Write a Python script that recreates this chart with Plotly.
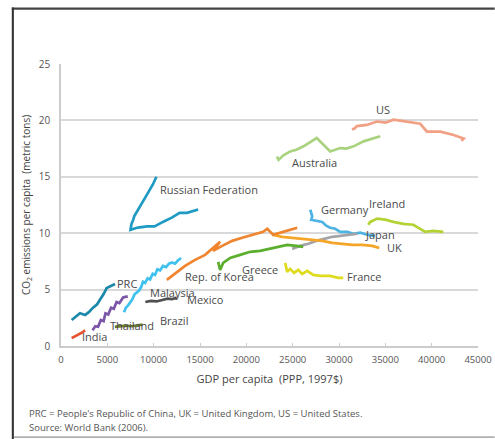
import plotly.graph_objects as go

# GDP per capita (PPP, 1997$) and CO2 emissions per capita (metric tons)
us_gdp = [31400, 31700, 31930, 33000, 34100, 35000, 35890, 37330, 38770, 39490, 40930, 42370, 43450, 43200]
us_co2 = [19.2, 19.3, 19.5, 19.6, 19.9, 19.8, 20.07, 19.9, 19.7, 19.0, 19.0, 18.7, 18.4, 18.2]

australia_gdp = [23300, 23480, 24000, 24730, 25400, 26170, 27600, 28330, 29050, 30130, 30800, 31570, 32650, 34450]
australia_co2 = [16.8, 16.5, 16.9, 17.25, 17.4, 17.7, 18.44, 17.85, 17.25, 17.55, 17.5, 17.7, 18.14, 18.6]

russia_gdp = [10300, 9900, 9400, 8900, 8400, 7900, 7800, 7600, 7500, 8300, 9300, 10100, 11000, 12000, 12800, 13600, 14800]
russia_co2 = [15.0, 14.3, 13.6, 12.9, 12.2, 11.5, 11.2, 10.8, 10.3, 10.5, 10.6, 10.6, 11.0, 11.4, 11.8, 11.8, 12.1]

germany_gdp = [26900, 27110, 27000, 27650, 28190, 28620, 29050, 29590, 30130, 30890, 31540, 32290, 33050, 33910]
germany_co2 = [12.08, 11.5, 11.19, 11.1, 11.0, 10.66, 10.48, 10.39, 10.12, 10.12, 9.95, 10.04, 9.86, 9.77]

ireland_gdp = [33160, 33370, 34130, 34990, 35860, 36940, 38020, 38770, 39310, 40180, 41260]
ireland_co2 = [10.75, 11.0, 11.3, 11.2, 11.0, 10.83, 10.75, 10.39, 10.12, 10.21, 10.12]

japan_gdp = [24950, 25810, 26680, 27540, 28400, 29270, 30130, 31000, 31970]
japan_co2 = [8.61, 8.88, 9.06, 9.32, 9.5, 9.68, 9.77, 9.86, 9.95]

uk_gdp = [22790, 23870, 24950, 26030, 27110, 28190, 29270, 30350, 31430, 32510, 33590, 34340]
uk_co2 = [9.86, 9.68, 9.59, 9.5, 9.41, 9.32, 9.15, 9.06, 8.97, 8.97, 8.88, 8.7]

korea_gdp = [11420, 12310, 13390, 14470, 15550, 17170, 16420, 17390, 18470, 19550, 20630, 21820, 22250, 22900, 23980, 25060, 25490]
korea_co2 = [5.86, 6.39, 7.10, 7.64, 8.08, 9.24, 8.44, 8.88, 9.32, 9.59, 9.86, 10.12, 10.39, 9.86, 10.12, 10.39, 10.48]

greece_gdp = [16960, 17170, 17500, 18250, 19330, 20410, 21490, 22900, 24410, 25380, 26140]
greece_co2 = [7.46, 6.75, 7.37, 7.81, 8.08, 8.35, 8.44, 8.7, 8.97, 8.88, 8.79]

france_gdp = [24190, 24410, 24730, 25160, 25600, 26030, 26570, 27220, 27970, 29050, 29920, 30460]
france_co2 = [7.37, 6.57, 6.84, 6.48, 6.75, 6.39, 6.66, 6.3, 6.22, 6.22, 6.04, 6.04]

malaysia_gdp = [6800, 7000, 7240, 7500, 7670, 7950, 8210, 8400, 8640, 8850, 9070, 9350, 9610, 9900,
                10150, 10400, 10690, 11000, 11340, 11650, 11990, 12300, 12640, 12960]
malaysia_co2 = [3.0, 3.4, 3.6, 3.9, 4.1, 4.6, 4.8, 4.9, 5.2, 5.7, 5.6, 6.0, 5.9, 6.4,
                6.3, 6.8, 6.7, 7.1, 7.0, 7.3, 7.4, 7.3, 7.6, 7.8]

mexico_gdp = [9100, 9700, 10300, 10900, 11500, 12000, 12500]
mexico_co2 = [3.9, 4.0, 3.95, 4.1, 4.2, 4.15, 4.3]

prc_gdp = [1150, 1600, 2050, 2600, 3000, 3460, 3900, 4200, 4600, 4930, 5400, 5830]
prc_co2 = [2.3, 2.6, 2.9, 2.75, 3.0, 3.4, 3.7, 4.1, 4.6, 5.15, 5.35, 5.5]

thailand_gdp = [3400, 3700, 4000, 4300, 4600, 4800, 5100, 5400, 5700, 6000, 6300, 6700, 7200]
thailand_co2 = [1.4, 1.75, 1.7, 2.3, 2.2, 2.9, 2.8, 3.4, 3.3, 3.9, 3.8, 4.3, 4.4]

brazil_gdp = [5800, 6400, 7000, 7600, 8200, 8800]
brazil_co2 = [1.7, 1.75, 1.8, 1.75, 1.85, 1.9]

india_gdp = [1150, 1500, 1900, 2300, 2600]
india_co2 = [0.7, 0.85, 1.05, 1.2, 1.4]

x_ticks = [0, 5000, 10000, 15000, 20000, 25000, 30000, 35000, 40000, 45000]
y_ticks = [0, 5, 10, 15, 20, 25]

series = [
    ('US', us_gdp, us_co2, '#f2a084'),
    ('Australia', australia_gdp, australia_co2, '#a9d37f'),
    ('Russian Federation', russia_gdp, russia_co2, '#1f9bc3'),
    ('Germany', germany_gdp, germany_co2, '#4db3e2'),
    ('Ireland', ireland_gdp, ireland_co2, '#b3d334'),
    ('Japan', japan_gdp, japan_co2, '#a3a3a8'),
    ('UK', uk_gdp, uk_co2, '#f5a629'),
    ('Rep. of Korea', korea_gdp, korea_co2, '#f08530'),
    ('Greece', greece_gdp, greece_co2, '#5cae2e'),
    ('France', france_gdp, france_co2, '#dfdb1e'),
    ('Malaysia', malaysia_gdp, malaysia_co2, '#3fc1ee'),
    ('Mexico', mexico_gdp, mexico_co2, '#505050'),
    ('PRC', prc_gdp, prc_co2, '#1c89ab'),
    ('Thailand', thailand_gdp, thailand_co2, '#7a55a8'),
    ('Brazil', brazil_gdp, brazil_co2, '#6b7d2c'),
    ('India', india_gdp, india_co2, '#e8502f'),
]

# label text and where it sits (data units, left edge)
labels = [
    ('US', 33800, 21.0), ('Australia', 24700, 16.3), ('Russian Federation', 10500, 13.9),
    ('Germany', 27800, 12.1), ('Ireland', 33000, 12.6), ('Japan', 32600, 9.86),
    ('UK', 35000, 8.7), ('France', 30600, 6.13), ('Greece', 19300, 6.75),
    ('Rep. of Korea', 13200, 6.2), ('PRC', 5800, 5.5), ('Malaysia', 9400, 4.7),
    ('Mexico', 13400, 4.1), ('Brazil', 10500, 2.3), ('Thailand', 5100, 1.8), ('India', 2000, 0.8),
]

fig = go.Figure()
for name, gdp, co2, col in series:
    fig.add_trace(go.Scatter(x=gdp, y=co2, mode='lines', name=name,
                             line=dict(width=2.7, color=col)))

for txt, lx, ly in labels:
    fig.add_annotation(x=lx, y=ly, text=txt, showarrow=False, xanchor='left', yanchor='middle',
                       font=dict(family='Open Sans', size=11, color='#4a4a4a'))

fig.add_annotation(xref='paper', yref='paper', x=-0.082, y=-0.24, xanchor='left', yanchor='middle',
                   text="PRC = People's Republic of China, UK = United Kingdom, US = United States.",
                   showarrow=False, font=dict(family='Open Sans', size=9.5, color='#555555'))
fig.add_annotation(xref='paper', yref='paper', x=-0.082, y=-0.29, xanchor='left', yanchor='middle',
                   text='Source: World Bank (2006).',
                   showarrow=False, font=dict(family='Open Sans', size=9.5, color='#555555'))

# outer frame of the original figure, drawn as thin filled bands kept inside the page
fig.add_shape(type='rect', xref='paper', yref='paper', x0=-0.118, x1=1.04, y0=1.192, y1=1.2,
              line=dict(width=0), fillcolor='#444444', layer='above')
fig.add_shape(type='rect', xref='paper', yref='paper', x0=-0.118, x1=-0.113, y0=-0.33, y1=1.2,
              line=dict(width=0), fillcolor='#333333', layer='above')
fig.add_shape(type='rect', xref='paper', yref='paper', x0=-0.113, x1=1.04, y0=-0.326, y1=-0.32,
              line=dict(width=0), fillcolor='#b0b0b0', layer='above')

fig.update_xaxes(range=[0, 45000], tickvals=x_ticks, ticktext=[str(v) for v in x_ticks],
                 showgrid=False, zeroline=False, showline=True, linecolor='#cccccc', linewidth=1.5,
                 ticks='inside', ticklen=3, tickcolor='#cccccc', ticklabelstandoff=4, automargin=False,
                 tickfont=dict(family='Open Sans', size=9.5, color='#555555'),
                 title=dict(text='GDP per capita  (PPP, 1997$)', standoff=10,
                            font=dict(family='Open Sans', size=11, color='#444444')))
fig.update_yaxes(range=[0, 25], tickvals=y_ticks, showgrid=True, gridcolor='#d9d9d9', gridwidth=1.5,
                 zeroline=False, showline=True, linecolor='#cccccc', linewidth=1.5,
                 ticks='', ticklabelstandoff=7, automargin=False,
                 tickfont=dict(family='Open Sans', size=10, color='#555555'),
                 title=dict(text='CO<sub>2</sub> emissions per capita  (metric tons)', standoff=6,
                            font=dict(family='Open Sans', size=10, color='#444444')))
fig.update_layout(width=495, height=439, showlegend=False,
                  margin=dict(l=61, r=17, t=64, b=93),
                  plot_bgcolor='white', paper_bgcolor='white')
# drop the browser's default body margin so the figure fills the window exactly
fig.write_html('out.html', config={'displayModeBar': False},
               post_script="document.body.style.margin='0';document.body.style.overflow='hidden';")
